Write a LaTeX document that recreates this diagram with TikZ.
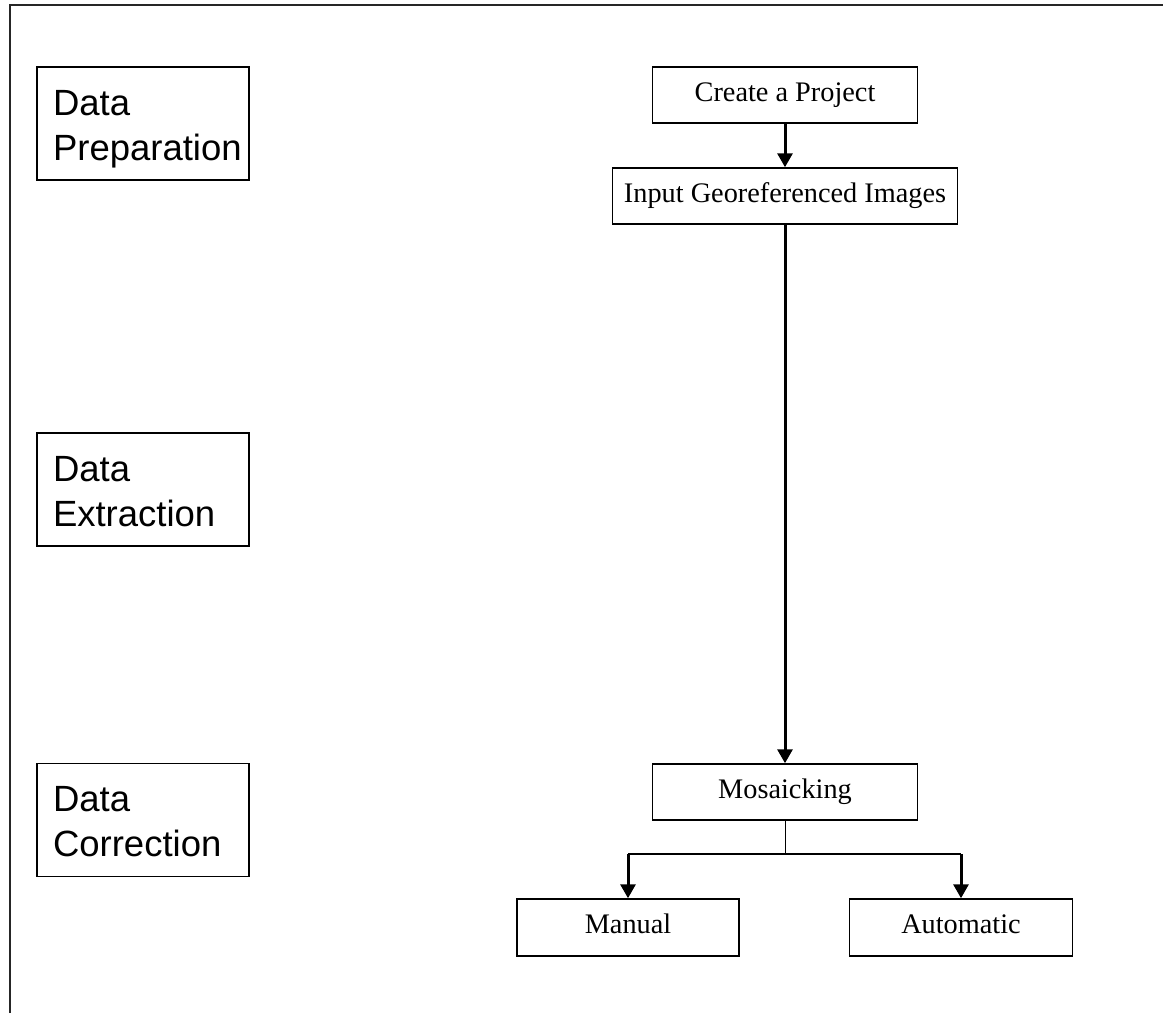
\documentclass[tikz,border=0pt]{standalone}
\usepackage{fontspec}
\setmainfont{Liberation Serif}
\newfontfamily\phasefont{Liberation Sans}
\usetikzlibrary{arrows.meta,positioning}

\begin{document}
\begin{tikzpicture}[
  x=1pt, y=-1pt,
  phase/.style={rectangle, draw, line width=1.3pt, minimum height=113pt,
    text width=180pt, inner xsep=16pt, align=left,
    font=\phasefont\fontsize{36.5}{45}\selectfont,
    execute at begin node={\rule{0pt}{36pt}},
    execute at end node={\rule[-8pt]{0pt}{8pt}}},
  task/.style={rectangle, draw, line width=1.5pt, minimum height=56pt,
    inner sep=0pt, text height=18pt, text depth=6pt,
    font=\fontsize{28.3}{32}\selectfont},
  flow/.style={draw, line width=3pt, -{Triangle[length=14pt,width=15pt]}}
]
  \useasboundingbox (0,0) rectangle (1163,1013);
  \draw[line width=1.5pt, black!85] (10,1013) -- (10,5) -- (1163,5);

  % phases on the left
  \node[phase] (prep) at (143,123.5) {Data\\Preparation};
  \node[phase] (extr) at (143,489.5) {Data\\Extraction};
  \node[phase] (corr) at (143,820) {Data\\Correction};

  % workflow
  \node[task, minimum width=265pt] (create) at (785,95) {Create a Project};
  \node[task, minimum width=345pt] (input) at (785,196) {Input Georeferenced Images};
  \node[task, minimum width=265pt] (mosaic) at (785,792) {Mosaicking};
  \node[task, minimum width=222pt, minimum height=57pt] (manual) at (628,927.5) {Manual};
  \node[task, minimum width=223pt, minimum height=57pt] (auto) at (961,927.5) {Automatic};
  \coordinate (split) at (785,854);

  \path[flow]
    (create) edge (input)
    (input) edge (mosaic);
  \draw[line width=1pt] (mosaic.south) -- (split);
  \draw[line width=1.5pt] (split -| manual) -- (split -| auto);
  \draw[flow] (split -| manual) -- (manual.north);
  \draw[flow] (split -| auto) -- (auto.north);
\end{tikzpicture}
\end{document}
